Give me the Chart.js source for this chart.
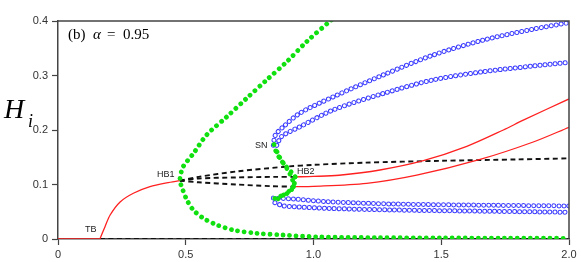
<!DOCTYPE html>
<html>
<head>
<meta charset="utf-8">
<script src="https://cdn.jsdelivr.net/npm/chart.js@4.4.1/dist/chart.umd.min.js"></script>
<style>
  html, body { margin: 0; padding: 0; background: #fff; }
  #wrap { width: 581px; height: 262px; }
</style>
</head>
<body>
<div id="wrap"><canvas id="bifChart"></canvas></div>
<script>
// ticks
const xTicks = [0, 0.5, 1, 1.5, 2];
const yTicks = [0, 0.1, 0.2, 0.3, 0.4];

// stable steady states (red)
const redFlatX = [0, 0.164];
const redFlatY = [0, 0];
const redRiseX = [0.164, 0.184, 0.204, 0.243, 0.295, 0.36, 0.425, 0.477];
const redRiseY = [0, 0.0226, 0.044, 0.068, 0.084, 0.096, 0.103, 0.107];
const redUpX = [0.928, 1.0, 1.1, 1.26, 1.43, 1.6, 1.743, 1.821, 2];
const redUpY = [0.114, 0.1148, 0.117, 0.1266, 0.1437, 0.17, 0.2, 0.218, 0.257];
const redLowX = [0.921, 1.0, 1.208, 1.404, 1.652, 1.86, 2];
const redLowY = [0.096, 0.0965, 0.102, 0.117, 0.146, 0.178, 0.205];

// unstable steady states (dashed)
const dashZeroX = [0.164, 2];
const dashZeroY = [0, 0];
const dashTopX = [0.477, 0.55, 0.7, 0.9, 1.0, 1.2, 1.5, 1.8, 2];
const dashTopY = [0.107, 0.114, 0.124, 0.133, 0.136, 0.14, 0.1435, 0.146, 0.148];
const dashMidX = [0.477, 0.55, 0.7, 0.85, 0.928];
const dashMidY = [0.107, 0.111, 0.113, 0.114, 0.114];
const dashLowX = [0.477, 0.55, 0.7, 0.83, 0.921];
const dashLowY = [0.107, 0.104, 0.1, 0.097, 0.096];

// stable periodic orbits (open blue circles)
const blueOuterX = [0.843, 0.85, 0.882, 0.947, 1.078, 1.273, 1.469, 1.665, 1.86, 2];
const blueOuterY = [0.172, 0.19, 0.206, 0.231, 0.261, 0.301, 0.3376, 0.365, 0.385, 0.397];
const blueInnerX = [0.856, 0.875, 0.947, 1.078, 1.273, 1.469, 1.665, 1.86, 2];
const blueInnerY = [0.172, 0.188, 0.206, 0.237, 0.267, 0.292, 0.307, 0.3174, 0.324];
const blueMinAX = [0.843, 0.88, 0.921, 1.052, 1.312, 1.704, 2];
const blueMinAY = [0.075, 0.0745, 0.0735, 0.0685, 0.0642, 0.0618, 0.0606];
const blueMinBX = [0.849, 0.88, 0.921, 1.052, 1.312, 1.704, 2];
const blueMinBY = [0.0666, 0.061, 0.0593, 0.0563, 0.0532, 0.0508, 0.049];

// unstable periodic orbits (green dots)
const greenBigX = [1.07, 0.973, 0.895, 0.817, 0.738, 0.66, 0.582, 0.53, 0.49, 0.481, 0.477, 0.484, 0.504, 0.53, 0.569, 0.621, 0.686, 0.778, 0.882, 1.013, 1.25, 1.5, 1.75, 2];
const greenBigY = [0.402, 0.362, 0.325, 0.292, 0.258, 0.224, 0.191, 0.157, 0.133, 0.12, 0.107, 0.096, 0.072, 0.053, 0.038, 0.026, 0.0165, 0.0105, 0.0073, 0.004, 0.0025, 0.002, 0.0015, 0.0013];
const greenMaxAX = [0.928, 0.915, 0.895, 0.872, 0.852, 0.843];
const greenMaxAY = [0.114, 0.122, 0.132, 0.145, 0.162, 0.178];
const greenMaxBX = [0.921, 0.918, 0.905, 0.885, 0.865, 0.85];
const greenMaxBY = [0.096, 0.108, 0.122, 0.137, 0.152, 0.168];
const greenMinAX = [0.928, 0.924, 0.91, 0.885, 0.86, 0.843];
const greenMinAY = [0.114, 0.1, 0.088, 0.081, 0.077, 0.073];
const greenMinBX = [0.921, 0.91, 0.89, 0.868, 0.85, 0.845];
const greenMinBY = [0.096, 0.09, 0.083, 0.076, 0.07, 0.066];

// bifurcation point labels
const pointNames = ['TB', 'HB1', 'SN', 'HB2'];
const pointNameX = [0.106, 0.387, 0.771, 0.935];
const pointNameY = [0.012, 0.113, 0.167, 0.119];

const sans = '"Liberation Sans", Arial, sans-serif';
const serif = '"Liberation Serif", "Times New Roman", serif';

function pts(xs, ys) {
    return xs.map((x, i) => ({ x: x, y: ys[i] }));
}

function red(xs, ys, t) {
    return { data: pts(xs, ys), borderColor: '#ff2020', borderWidth: 1.3, tension: t, order: 5 };
}
function dashed(xs, ys, t) {
    return { data: pts(xs, ys), borderColor: '#111', borderWidth: 1.9, borderDash: [5, 3.5], tension: t, order: 6 };
}
function ring(xs, ys) {
    return [
        { data: pts(xs, ys), borderColor: '#3c3cff', borderWidth: 5, borderDash: [0.01, 5], borderCapStyle: 'round', tension: 0.3, order: 4 },
        { data: pts(xs, ys), borderColor: '#ffffff', borderWidth: 3, borderDash: [0.01, 5], borderCapStyle: 'round', tension: 0.3, order: 3 }
    ];
}
function dots(xs, ys) {
    return { data: pts(xs, ys), borderColor: '#10e010', borderWidth: 4.8, borderDash: [0.01, 6.5], borderCapStyle: 'round', tension: 0.3, order: 1 };
}

const datasets = [
    dashed(dashZeroX, dashZeroY, 0),
    dashed(dashTopX, dashTopY, 0.3),
    dashed(dashMidX, dashMidY, 0.3),
    dashed(dashLowX, dashLowY, 0.3),
    red(redFlatX, redFlatY, 0),
    red(redRiseX, redRiseY, 0.3),
    red(redUpX, redUpY, 0.3),
    red(redLowX, redLowY, 0.3),
    ...ring(blueOuterX, blueOuterY),
    ...ring(blueInnerX, blueInnerY),
    ...ring(blueMinAX, blueMinAY),
    ...ring(blueMinBX, blueMinBY),
    dots(greenBigX, greenBigY),
    dots(greenMaxAX, greenMaxAY),
    dots(greenMaxBX, greenMaxBY),
    dots(greenMinAX, greenMinAY),
    dots(greenMinBX, greenMinBY)
];

// frame, labels, panel title and y label
const decor = {
    id: 'decor',
    afterDraw(chart) {
        const ctx = chart.ctx;
        const a = chart.chartArea;
        const xs = chart.scales.x, ys = chart.scales.y;
        ctx.save();
        ctx.strokeStyle = '#444';
        ctx.lineWidth = 1.5;
        ctx.beginPath();
        ctx.moveTo(a.left, a.top);
        ctx.lineTo(a.right, a.top);
        ctx.lineTo(a.right, a.bottom);
        ctx.stroke();

        ctx.fillStyle = '#222';
        ctx.font = '9px ' + sans;
        ctx.textBaseline = 'alphabetic';
        pointNames.forEach((t, i) => {
            ctx.fillText(t, xs.getPixelForValue(pointNameX[i]), ys.getPixelForValue(pointNameY[i]));
        });

        ctx.fillStyle = '#000';
        ctx.font = '15px ' + serif;
        ctx.fillText('(b)', a.left + 10, a.top + 18);
        ctx.font = 'italic 15px ' + serif;
        ctx.fillText('α', a.left + 35, a.top + 18);
        ctx.font = '15px ' + serif;
        ctx.fillText('=', a.left + 49, a.top + 18);
        ctx.fillText('0.95', a.left + 65, a.top + 18);

        ctx.font = 'italic 28px ' + serif;
        ctx.fillText('H', 4, 118);
        ctx.font = 'italic 18px ' + serif;
        ctx.fillText('i', 28, 127);
        ctx.restore();
    }
};

new Chart(document.getElementById('bifChart'), {
    type: 'scatter',
    data: { datasets: datasets },
    options: {
        responsive: true,
        maintainAspectRatio: false,
        animation: false,
        layout: { padding: { top: 21, right: 12, left: 0, bottom: 0 } },
        plugins: { legend: { display: false }, tooltip: { enabled: false } },
        elements: { point: { radius: 0, hoverRadius: 0 } },
        datasets: { scatter: { showLine: true, fill: false } },
        scales: {
            x: {
                type: 'linear', min: 0, max: 2,
                afterBuildTicks: s => { s.ticks = xTicks.map(v => ({ value: v })); },
                afterFit: s => { s.height = 23; },
                grid: { drawOnChartArea: false, tickLength: 6, color: '#444', tickWidth: 1.2 },
                border: { color: '#444', width: 1.5 },
                ticks: { color: '#333', font: { family: sans, size: 11 }, padding: 3, maxRotation: 0 }
            },
            y: {
                type: 'linear', min: 0, max: 0.4,
                afterBuildTicks: s => { s.ticks = yTicks.map(v => ({ value: v })); },
                afterFit: s => { s.width = 58; },
                grid: { drawOnChartArea: false, tickLength: 6, color: '#444', tickWidth: 1.2 },
                border: { color: '#444', width: 1.5 },
                ticks: { color: '#333', font: { family: sans, size: 11 }, padding: 4 }
            }
        }
    },
    plugins: [decor]
});
</script>
</body>
</html>
